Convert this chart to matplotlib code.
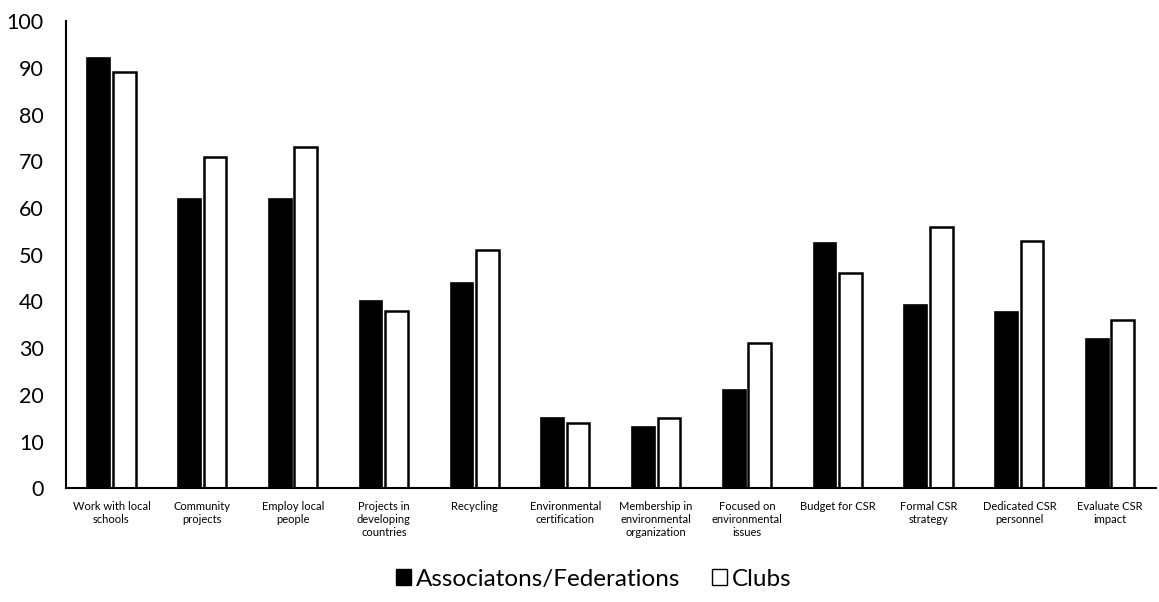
import numpy as np
import matplotlib.pyplot as plt
from matplotlib.patches import Patch

plt.rcParams['font.family'] = ['Lato', 'DejaVu Sans']

categories = [
    "Work with local\nschools", "Community\nprojects", "Employ local\npeople",
    "Projects in\ndeveloping\ncountries", "Recycling", "Environmental\ncertification",
    "Membership in\nenvironmental\norganization", "Focused on\nenvironmental\nissues",
    "Budget for CSR", "Formal CSR\nstrategy", "Dedicated CSR\npersonnel", "Evaluate CSR\nimpact",
]
associations = [92.2, 62, 62, 40, 44, 15, 13, 21, 52.6, 39.2, 37.7, 32]
clubs = [89, 71, 73, 38, 51, 14, 15, 31, 46, 56, 53, 36]

x = np.arange(len(categories))
w = 0.25

fig = plt.figure(figsize=(11.59, 6.02), dpi=100)
ax = fig.add_axes([0.057, 0.189, 0.94, 0.776])

ax.bar(x - 0.14, associations, w, color="black", edgecolor="black", linewidth=1.2)
ax.bar(x + 0.14, clubs, w, color="white", edgecolor="black", linewidth=1.8)

ax.set_xlim(-0.5, len(categories) - 0.5)
ax.set_ylim(0, 100)
ax.set_yticks(range(0, 101, 10))
ax.tick_params(axis="y", length=0, labelsize=15.5, pad=16)
ax.tick_params(axis="x", length=0, pad=9)
ax.set_xticks(x)
ax.set_xticklabels(categories, fontsize=8, linespacing=1.25)

for s in ["top", "right"]:
    ax.spines[s].set_visible(False)
ax.spines["left"].set_linewidth(1.5)
ax.spines["bottom"].set_linewidth(1.5)

handles = [
    Patch(facecolor="black", edgecolor="black", label="Associatons/Federations"),
    Patch(facecolor="white", edgecolor="black", linewidth=1, label="Clubs"),
]
fig.legend(handles=handles, loc="center", bbox_to_anchor=(0.512, 0.038), ncol=2,
           frameon=False, fontsize=17.5, handlelength=0.62, handleheight=0.62,
           handletextpad=0.2, columnspacing=1.3)

fig.savefig("out.png", dpi=100)
